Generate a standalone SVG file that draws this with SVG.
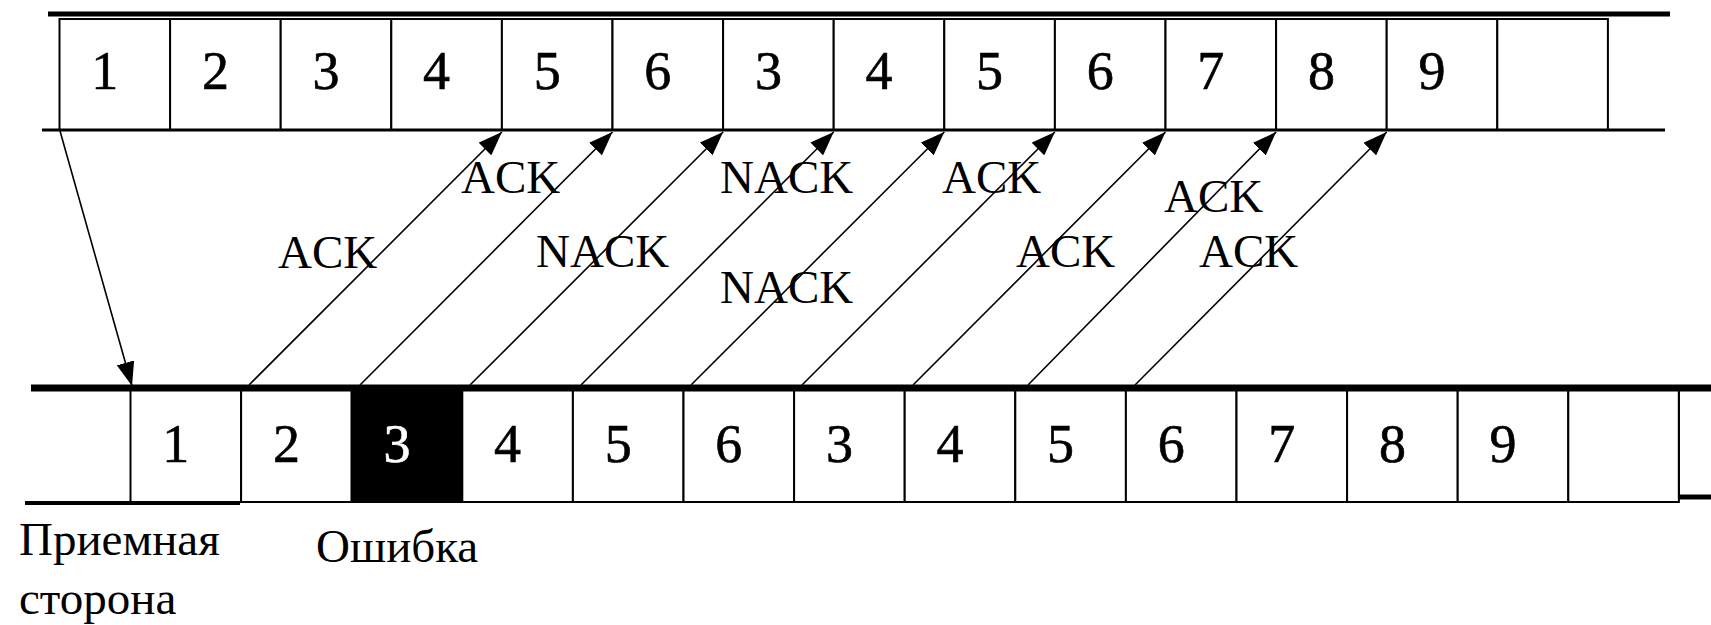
<svg xmlns="http://www.w3.org/2000/svg" width="1711" height="625" viewBox="0 0 1711 625">
<style>
  .box { fill: #fff; stroke: #000; stroke-width: 2; }
  .err { fill: #000; stroke: #000; stroke-width: 2; }
  text { font-family: 'Liberation Serif', 'DejaVu Serif', serif; }
  .num { font-size: 54px; text-anchor: middle; fill: #000; stroke: #000; stroke-width: 0.6; }
  .numw { font-size: 54px; text-anchor: middle; fill: #fff; stroke: #fff; stroke-width: 0.6; }
  .lbl { font-size: 47px; fill: #000; }
  .rail { stroke: #000; fill: none; }
  .conn { stroke: #000; stroke-width: 1.6; fill: none; marker-end: url(#ah); }
</style>
<defs>
  <marker id="ah" viewBox="0 0 24 18" refX="24" refY="9" markerWidth="24" markerHeight="18" markerUnits="userSpaceOnUse" orient="auto">
    <path d="M0,0 L24,9 L0,18 z" fill="#000"/>
  </marker>
</defs>
<rect width="1711" height="625" fill="#fff"/>

<!-- top (sender) row -->
<g id="top-row">
  <g id="t1"><rect class="box" x="59.5" y="19" width="110.6" height="111"/><text class="num" x="104.8" y="89">1</text></g>
  <g id="t2"><rect class="box" x="170.1" y="19" width="110.6" height="111"/><text class="num" x="215.4" y="89">2</text></g>
  <g id="t3"><rect class="box" x="280.7" y="19" width="110.6" height="111"/><text class="num" x="326" y="89">3</text></g>
  <g id="t4"><rect class="box" x="391.3" y="19" width="110.6" height="111"/><text class="num" x="436.6" y="89">4</text></g>
  <g id="t5"><rect class="box" x="501.9" y="19" width="110.6" height="111"/><text class="num" x="547.2" y="89">5</text></g>
  <g id="t6"><rect class="box" x="612.5" y="19" width="110.6" height="111"/><text class="num" x="657.8" y="89">6</text></g>
  <g id="t7"><rect class="box" x="723.1" y="19" width="110.6" height="111"/><text class="num" x="768.4" y="89">3</text></g>
  <g id="t8"><rect class="box" x="833.7" y="19" width="110.6" height="111"/><text class="num" x="879" y="89">4</text></g>
  <g id="t9"><rect class="box" x="944.3" y="19" width="110.6" height="111"/><text class="num" x="989.6" y="89">5</text></g>
  <g id="t10"><rect class="box" x="1054.9" y="19" width="110.6" height="111"/><text class="num" x="1100.2" y="89">6</text></g>
  <g id="t11"><rect class="box" x="1165.5" y="19" width="110.6" height="111"/><text class="num" x="1210.8" y="89">7</text></g>
  <g id="t12"><rect class="box" x="1276.1" y="19" width="110.6" height="111"/><text class="num" x="1321.4" y="89">8</text></g>
  <g id="t13"><rect class="box" x="1386.7" y="19" width="110.6" height="111"/><text class="num" x="1432" y="89">9</text></g>
  <g id="t14"><rect class="box" x="1497.3" y="19" width="110.6" height="111"/></g>
  <line class="rail" x1="48" y1="14" x2="1670" y2="14" stroke-width="5"/>
  <line class="rail" x1="42" y1="130" x2="1665" y2="130" stroke-width="3"/>
</g>

<!-- bottom (receiver) row -->
<g id="bottom-row">
  <g id="b1"><rect class="box" x="130.5" y="388" width="110.6" height="114"/><text class="num" x="175.8" y="462">1</text></g>
  <g id="b2"><rect class="box" x="241.1" y="388" width="110.6" height="114"/><text class="num" x="286.4" y="462">2</text></g>
  <g id="b3"><rect class="err" x="351.7" y="388" width="110.6" height="114"/><text class="numw" x="397" y="462">3</text></g>
  <g id="b4"><rect class="box" x="462.3" y="388" width="110.6" height="114"/><text class="num" x="507.6" y="462">4</text></g>
  <g id="b5"><rect class="box" x="572.9" y="388" width="110.6" height="114"/><text class="num" x="618.2" y="462">5</text></g>
  <g id="b6"><rect class="box" x="683.5" y="388" width="110.6" height="114"/><text class="num" x="728.8" y="462">6</text></g>
  <g id="b7"><rect class="box" x="794.1" y="388" width="110.6" height="114"/><text class="num" x="839.4" y="462">3</text></g>
  <g id="b8"><rect class="box" x="904.7" y="388" width="110.6" height="114"/><text class="num" x="950" y="462">4</text></g>
  <g id="b9"><rect class="box" x="1015.3" y="388" width="110.6" height="114"/><text class="num" x="1060.6" y="462">5</text></g>
  <g id="b10"><rect class="box" x="1125.9" y="388" width="110.6" height="114"/><text class="num" x="1171.2" y="462">6</text></g>
  <g id="b11"><rect class="box" x="1236.5" y="388" width="110.6" height="114"/><text class="num" x="1281.8" y="462">7</text></g>
  <g id="b12"><rect class="box" x="1347.1" y="388" width="110.6" height="114"/><text class="num" x="1392.4" y="462">8</text></g>
  <g id="b13"><rect class="box" x="1457.7" y="388" width="110.6" height="114"/><text class="num" x="1503" y="462">9</text></g>
  <g id="b14"><rect class="box" x="1568.3" y="388" width="110.6" height="114"/></g>
  <g id="b15"><path d="M1678.9,388 V497 H1715" class="rail" stroke-width="2"/><line class="rail" x1="1679" y1="497" x2="1711" y2="497" stroke-width="5"/></g>
  <line class="rail" x1="31" y1="388" x2="1711" y2="388" stroke-width="7"/>
  <line class="rail" x1="25" y1="503" x2="240" y2="503" stroke-width="4"/>
</g>

<!-- connectors -->
<g id="connectors">
  <line class="conn" x1="60" y1="131" x2="132" y2="386"/>
  <line class="conn" x1="249" y1="385" x2="501.9" y2="132"/>
  <line class="conn" x1="360" y1="385" x2="612.5" y2="132"/>
  <line class="conn" x1="470" y1="385" x2="723.1" y2="132"/>
  <line class="conn" x1="581" y1="385" x2="833.7" y2="132"/>
  <line class="conn" x1="691" y1="385" x2="944.3" y2="132"/>
  <line class="conn" x1="802" y1="385" x2="1054.9" y2="132"/>
  <line class="conn" x1="913" y1="385" x2="1165.5" y2="132"/>
  <line class="conn" x1="1028" y1="385" x2="1276.1" y2="132"/>
  <line class="conn" x1="1135" y1="385" x2="1386.7" y2="132"/>
</g>

<!-- connector labels -->
<g id="labels">
  <text class="lbl" x="278" y="268">ACK</text>
  <text class="lbl" x="461" y="193">ACK</text>
  <text class="lbl" x="720" y="193">NACK</text>
  <text class="lbl" x="942" y="193">ACK</text>
  <text class="lbl" x="536" y="267">NACK</text>
  <text class="lbl" x="720" y="303">NACK</text>
  <text class="lbl" x="1016" y="267">ACK</text>
  <text class="lbl" x="1164" y="212">ACK</text>
  <text class="lbl" x="1199" y="267">ACK</text>
</g>

<g id="captions">
  <text class="lbl" x="19" y="555">Приемная</text>
  <text class="lbl" x="19" y="614">сторона</text>
  <text class="lbl" x="316" y="562">Ошибка</text>
</g>
</svg>
